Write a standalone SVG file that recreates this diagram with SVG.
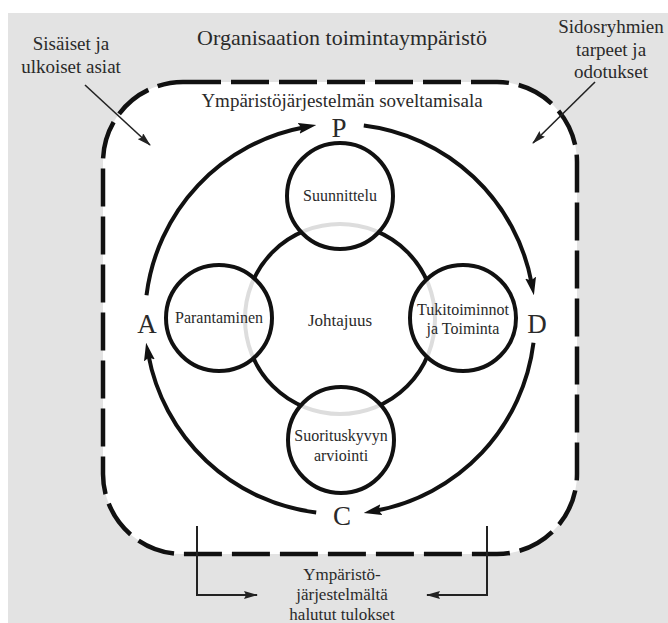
<svg xmlns="http://www.w3.org/2000/svg" width="668" height="623" viewBox="0 0 668 623">
<style>
  .t { font-family: 'Liberation Serif', 'DejaVu Serif', serif; fill: #2a2a2a; text-anchor: middle; }
  .title { font-size: 22px; }
  .lbl { font-size: 19px; }
  .scope { font-size: 19px; }
  .node { font-size: 16px; }
  .pdca { font-size: 27px; }
  .out { font-size: 17px; }
  .sat { fill: #ffffff; fill-opacity: 0.86; stroke: #111; stroke-width: 4; }
  .ring { fill: none; stroke: #111; stroke-width: 4; }
  .cycle { fill: none; stroke: #111; stroke-width: 4; marker-end: url(#bigArrow); }
  .thin { fill: none; stroke: #222; stroke-width: 1.6; marker-end: url(#thinArrow); }
  .bracket { fill: none; stroke: #222; stroke-width: 2; marker-end: url(#thinArrow); }
</style>
<defs>
  <marker id="bigArrow" markerUnits="userSpaceOnUse" markerWidth="18" markerHeight="11" refX="6" refY="5.5" orient="auto">
    <path d="M0,0 L18,5.5 L0,11 L3,5.5 Z" fill="#111"/>
  </marker>
  <marker id="thinArrow" markerUnits="userSpaceOnUse" markerWidth="14" markerHeight="8" refX="13" refY="4" orient="auto">
    <path d="M0,0 L14,4 L0,8 L2,4 Z" fill="#222"/>
  </marker>
</defs>

<rect x="0" y="0" width="668" height="623" fill="#ffffff"/>
<rect x="8" y="13" width="660" height="610" fill="#e3e3e3"/>

<g font-family="Liberation Serif, DejaVu Serif, serif">
<g id="scope">
  <rect x="103" y="82" width="474" height="472" rx="80" ry="80" fill="#ffffff" stroke="#111" stroke-width="4.5" stroke-dasharray="38 10"/>
  <text class="t scope" x="342" y="107">Ympäristöjärjestelmän soveltamisala</text>
</g>

<g id="title">
  <text class="t title" x="342" y="45">Organisaation toimintaympäristö</text>
</g>

<g id="internal-external">
  <text class="t lbl" x="71" y="50">Sisäiset ja</text>
  <text class="t lbl" x="71" y="73">ulkoiset asiat</text>
</g>

<g id="stakeholders">
  <text class="t lbl" x="611" y="33">Sidosryhmien</text>
  <text class="t lbl" x="611" y="56">tarpeet ja</text>
  <text class="t lbl" x="611" y="78">odotukset</text>
</g>

<g id="outcomes">
  <text class="t out" x="342" y="580">Ympäristö-</text>
  <text class="t out" x="342" y="600">järjestelmältä</text>
  <text class="t out" x="342" y="620">halutut tulokset</text>
</g>

<g id="leadership">
  <circle class="ring" cx="340" cy="319" r="95"/>
  <text class="t node" x="340" y="326" style="font-size:17px">Johtajuus</text>
</g>

<g id="planning">
  <circle class="sat" cx="340" cy="196" r="53"/>
  <text class="t node" x="340" y="201">Suunnittelu</text>
</g>

<g id="improvement">
  <circle class="sat" cx="219" cy="318" r="53"/>
  <text class="t node" x="219" y="323">Parantaminen</text>
</g>

<g id="support-operation">
  <circle class="sat" cx="463" cy="318" r="53"/>
  <text class="t node" x="463" y="315">Tukitoiminnot</text>
  <text class="t node" x="463" y="334">ja Toiminta</text>
</g>

<g id="evaluation">
  <circle class="sat" cx="341" cy="440" r="53"/>
  <text class="t node" x="341" y="441">Suorituskyvyn</text>
  <text class="t node" x="341" y="461">arviointi</text>
</g>

<g id="P"><text class="t pdca" x="339" y="137">P</text></g>
<g id="D"><text class="t pdca" x="537" y="333">D</text></g>
<g id="C"><text class="t pdca" x="342" y="525">C</text></g>
<g id="A"><text class="t pdca" x="147" y="333">A</text></g>
</g>

<g id="connectors">
  <path class="cycle" d="M146.5,295.2 A195,195 0 0 1 304.5,127.3"/>
  <path class="cycle" d="M363.8,125.5 A195,195 0 0 1 531.7,283.5"/>
  <path class="cycle" d="M533.5,342.8 A195,195 0 0 1 375.5,510.7"/>
  <path class="cycle" d="M316.2,512.5 A195,195 0 0 1 148.3,354.5"/>
  <line class="thin" x1="85" y1="85" x2="150" y2="145"/>
  <line class="thin" x1="595" y1="82" x2="533" y2="143"/>
  <polyline class="bracket" points="197,526 197,595 257,595"/>
  <polyline class="bracket" points="487,526 487,595 427,595"/>
</g>
</svg>
